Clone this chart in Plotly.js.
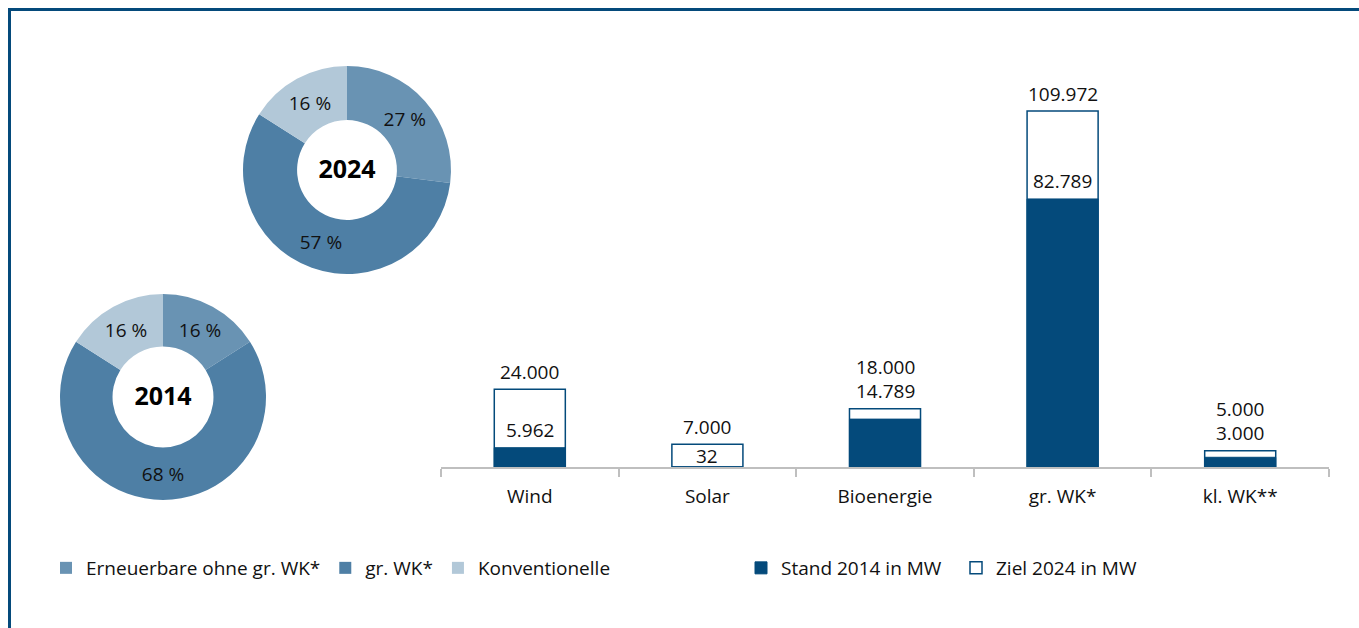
<!DOCTYPE html>
<html>
<head>
<meta charset="utf-8">
<script src="https://cdn.plot.ly/plotly-3.0.1.min.js"></script>
<style>
  html, body { margin: 0; padding: 0; background: #ffffff; }
  #chart { width: 1359px; height: 628px; }
</style>
</head>
<body>
<div id="chart"></div>
<script>
// Installierte Leistung: Stand 2014 vs. Ziel 2024 (MW)
const categories = ['Wind', 'Solar', 'Bioenergie', 'gr. WK*', 'kl. WK**'];
const stand2014 = [5962, 32, 14789, 82789, 3000];
const ziel2024 = [24000, 7000, 18000, 109972, 5000];

// Strommix-Anteile in %
const mixLabels = ['Erneuerbare ohne gr. WK*', 'gr. WK*', 'Konventionelle'];
const mix2014 = [16, 68, 16];
const mix2024 = [27, 57, 16];

const W = 1359, H = 628;
const dark = '#044a7b';
const mixColors = ['#6993b3', '#4e7fa5', '#b2c8d8'];
const font = 'Open Sans, Noto Sans, sans-serif';
const yMax = 125700;

// deutsches Zahlenformat: 24000 -> 24.000
const fmt = v => String(v).replace(/\B(?=(\d{3})+(?!\d))/g, '.');

// helpers for pixel -> paper coords
const px = x => x / W;
const py = y => 1 - y / H;

const pieText = { size: 19, color: '#111111', family: font };

const pie2024 = {
    type: 'pie',
    labels: mixLabels,
    values: mix2024,
    sort: false,
    direction: 'clockwise',
    rotation: 0,
    hole: 0.48,
    marker: { colors: mixColors, line: { width: 0 } },
    texttemplate: '%{value} %',
    textposition: 'inside',
    insidetextorientation: 'horizontal',
    textfont: pieText,
    title: { text: '<b>2024</b>', position: 'middle center', font: { size: 25, color: '#000000', family: font } },
    domain: { x: [px(243), px(451)], y: [py(274), py(66)] },
    legend: 'legend',
    hoverinfo: 'label+percent'
};

const pie2014 = {
    type: 'pie',
    labels: mixLabels,
    values: mix2014,
    sort: false,
    direction: 'clockwise',
    rotation: 0,
    hole: 0.49,
    marker: { colors: mixColors, line: { width: 0 } },
    texttemplate: '%{value} %',
    textposition: 'inside',
    insidetextorientation: 'horizontal',
    textfont: pieText,
    title: { text: '<b>2014</b>', position: 'middle center', font: { size: 25, color: '#000000', family: font } },
    domain: { x: [px(60), px(266)], y: [py(500), py(294)] },
    legend: 'legend',
    showlegend: false,
    hoverinfo: 'label+percent'
};

const traceZiel = {
    type: 'bar',
    name: 'Ziel 2024 in MW',
    x: categories,
    y: ziel2024,
    width: 0.4,
    marker: { color: '#ffffff', line: { color: dark, width: 1.5 } },
    legend: 'legend3',
    hovertemplate: '%{x}: %{y}<extra></extra>'
};

const traceStand = {
    type: 'bar',
    name: 'Stand 2014 in MW',
    x: categories,
    y: stand2014,
    width: 0.4,
    marker: { color: dark, line: { color: dark, width: 1 } },
    legend: 'legend2',
    hovertemplate: '%{x}: %{y}<extra></extra>'
};

// Beschriftungen: liegen beide Werte zu dicht, werden sie übereinander gestapelt;
// bei fast leerem Stand-Balken sitzt die Zahl unten im Ziel-Balken
const labelFont = { size: 19, color: '#111111', family: font };
const annotations = [];
categories.forEach((c, i) => {
    const close = (ziel2024[i] - stand2014[i]) < 0.05 * yMax;
    const tiny = stand2014[i] < 0.01 * yMax;
    annotations.push({
        x: c, y: close ? ziel2024[i] : stand2014[i],
        xref: 'x', yref: 'y',
        text: fmt(stand2014[i]),
        showarrow: false, yanchor: 'bottom', yshift: tiny ? -4 : 3,
        font: labelFont
    });
    annotations.push({
        x: c, y: ziel2024[i],
        xref: 'x', yref: 'y',
        text: fmt(ziel2024[i]),
        showarrow: false, yanchor: 'bottom', yshift: close ? 27 : 2,
        font: labelFont
    });
});

const legendBase = {
    orientation: 'h',
    yanchor: 'middle',
    y: py(568),
    xanchor: 'left',
    bgcolor: 'rgba(0,0,0,0)',
    font: { size: 19, color: '#111111', family: font },
    itemclick: false,
    itemdoubleclick: false
};

const layout = {
    width: W,
    height: H,
    margin: { l: 0, r: 0, t: 0, b: 0 },
    paper_bgcolor: '#ffffff',
    plot_bgcolor: 'rgba(0,0,0,0)',
    font: { family: font, color: '#111111' },
    barmode: 'overlay',
    bargap: 0.6,
    xaxis: {
        domain: [px(441), px(1329)],
        type: 'category',
        showline: true,
        linecolor: '#bfbfbf',
        linewidth: 1.5,
        ticks: 'outside',
        tickson: 'boundaries',
        ticklen: 8,
        tickwidth: 1.5,
        tickcolor: '#bfbfbf',
        ticklabelstandoff: 11,
        showgrid: false,
        zeroline: false,
        tickfont: { size: 19, color: '#111111', family: font }
    },
    yaxis: {
        domain: [py(467), py(60)],
        range: [0, yMax],
        visible: false,
        showgrid: false,
        zeroline: false
    },
    legend: Object.assign({}, legendBase, { x: px(46) }),
    legend2: Object.assign({}, legendBase, { x: px(741) }),
    legend3: Object.assign({}, legendBase, { x: px(956) }),
    annotations: annotations,
    shapes: [{
        type: 'path',
        xref: 'paper', yref: 'paper',
        path: `M ${px(9.5)} 0 L ${px(9.5)} ${py(9.5)} L 1 ${py(9.5)}`,
        line: { color: dark, width: 3 },
        layer: 'above'
    }]
};

Plotly.newPlot('chart', [traceZiel, traceStand, pie2014, pie2024], layout, { displayModeBar: false });
</script>
</body>
</html>
